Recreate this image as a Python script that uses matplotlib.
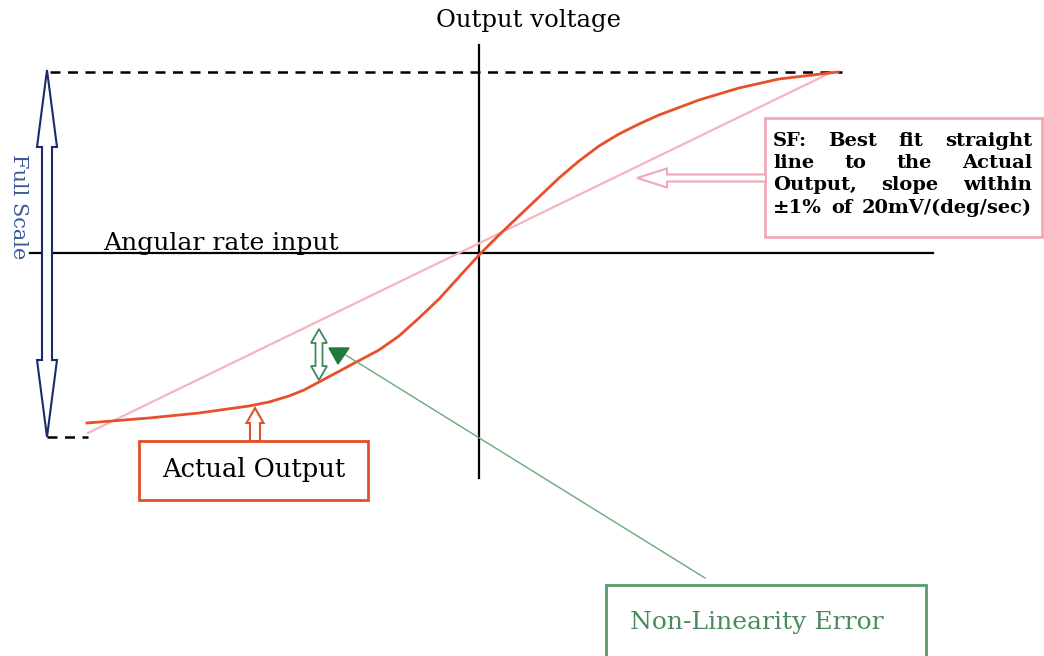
import numpy as np
import matplotlib
matplotlib.use("Agg")
import matplotlib.pyplot as plt
from matplotlib.patches import Polygon, Rectangle

# units: 1 unit = 1 px, origin where the two axes cross
# actual sensor output (S-curve)
rate_in = [-392, -330, -280, -230, -210, -190, -175, -160, -145, -130, -100, -80, -60, -40, -20, 0,
           20, 40, 60, 80, 100, 120, 140, 160, 180, 220, 260, 300, 359]
volt_out = [-170, -165, -160, -153, -149, -143, -137, -129, -121, -113, -97, -83, -65, -46, -24, -2,
            18, 37, 56, 75, 92, 107, 119, 129, 138, 153, 165, 174, 181]
# best fit straight line (SF)
fit_x = [-391, 353]
fit_y = [-180, 181]
# full scale limits
fs_top = 181
fs_bottom = -184

sf_lines = ["SF: Best fit straight",
            "line to the Actual",
            "Output, slope within",
            "\u00b11% of 20mV/(deg/sec)"]

FONT = "DejaVu Serif"


def hollow_arrow(ax, x0, y0, x1, y1, shaft_w, head_w, head_l, color, double=False, lw=1.5):
    # outline arrow as a polygon, tip at (x1, y1) (and at (x0, y0) if double)
    p0 = np.array([x0, y0], float)
    p1 = np.array([x1, y1], float)
    d = (p1 - p0) / np.linalg.norm(p1 - p0)
    n = np.array([-d[1], d[0]])
    L = np.linalg.norm(p1 - p0)
    s = shaft_w / 2
    h = head_w / 2
    pts = []
    if double:
        pts.append(p0)
        pts.append(p0 + d * head_l - n * h)
        pts.append(p0 + d * head_l - n * s)
    else:
        pts.append(p0 - n * s)
    pts.append(p0 + d * (L - head_l) - n * s)
    pts.append(p0 + d * (L - head_l) - n * h)
    pts.append(p1)
    pts.append(p0 + d * (L - head_l) + n * h)
    pts.append(p0 + d * (L - head_l) + n * s)
    if double:
        pts.append(p0 + d * head_l + n * s)
        pts.append(p0 + d * head_l + n * h)
    else:
        pts.append(p0 + n * s)
    ax.add_patch(Polygon(pts, closed=True, facecolor="white", edgecolor=color, lw=lw, zorder=5))


fig = plt.figure(figsize=(10.44, 6.56), dpi=100)
ax = fig.add_axes([0, 0, 1, 1])
ax.set_xlim(-479, 565)
ax.set_ylim(-403, 253)
ax.axis("off")

# axes of the diagram
ax.plot([0, 0], [-225, 208], color="black", lw=1.6, zorder=2)
ax.plot([-449, 454], [0, 0], color="black", lw=1.6, zorder=2)

# full scale dashed limits
ax.plot([-429, 363], [fs_top, fs_top], color="black", lw=1.8, ls=(0, (4, 3)), zorder=2)
ax.plot([-432, fit_x[0]], [fs_bottom, fs_bottom], color="black", lw=1.8, ls=(0, (4, 3)), zorder=2)

# lines
ax.plot(fit_x, fit_y, color="#f4b4c0", lw=1.6, zorder=3)
ax.plot(rate_in, volt_out, color="#e8502a", lw=2, zorder=4)

# full scale arrow
hollow_arrow(ax, -432, fs_top + 2, -432, fs_bottom, 10, 20, 77, "#1a2a6a", double=True)
ax.text(-461, 46, "Full Scale", rotation=-90, ha="center", va="center",
        fontsize=15, color="#3a5a9a", family=FONT)

ax.text(49, 233, "Output voltage", ha="center", va="center", fontsize=17.5, family=FONT)
ax.text(-376, 3, "Angular rate input", ha="left", va="baseline", fontsize=18, family=FONT)

# SF box
ax.add_patch(Rectangle((286, 16), 277, 119, facecolor="white", edgecolor="#f0a8b8", lw=2, zorder=5))
hollow_arrow(ax, 287, 75, 158, 75, 7, 19, 30, "#f0a8b8", lw=1.5)

renderer = fig.canvas.get_renderer()
left, right = 294, 553
line_y = [112, 90, 68, 45]
for line, yy in zip(sf_lines, line_y):
    words = line.split(" ")
    texts = [ax.text(0, yy, w, ha="left", va="center", fontsize=14, family=FONT,
                     weight="bold", zorder=6) for w in words]
    widths = [t.get_window_extent(renderer).width for t in texts]
    gap = (right - left - sum(widths)) / max(len(words) - 1, 1)
    x = left
    for t, w in zip(texts, widths):
        t.set_x(x)
        x += w + gap

# actual output box
ax.add_patch(Rectangle((-340, -247), 229, 59, facecolor="white", edgecolor="#e0502a", lw=2, zorder=5))
ax.text(-225, -217, "Actual Output", ha="center", va="center", fontsize=18.5, family=FONT, zorder=6)
hollow_arrow(ax, -224, -188, -224, -155, 10, 17, 15, "#e0502a", lw=1.5)

# non-linearity error
hollow_arrow(ax, -160, -76, -160, -127, 7, 16, 14, "#3a8a5a", double=True, lw=1.3)
ax.plot([226, -135], [-325, -101], color="#6aa87a", lw=1, zorder=4)
ax.add_patch(Polygon([(-150, -95), (-130, -95), (-141, -111)], closed=True,
                     facecolor="#1f7a3a", edgecolor="#1f7a3a", zorder=6))
ax.add_patch(Rectangle((127, -420), 320, 88, facecolor="white", edgecolor="#5a9a6a", lw=2, zorder=5))
ax.text(278, -369, "Non-Linearity Error", ha="center", va="center", fontsize=18,
        color="#4a8a60", family=FONT, zorder=6)

fig.savefig("out.png", dpi=100)
